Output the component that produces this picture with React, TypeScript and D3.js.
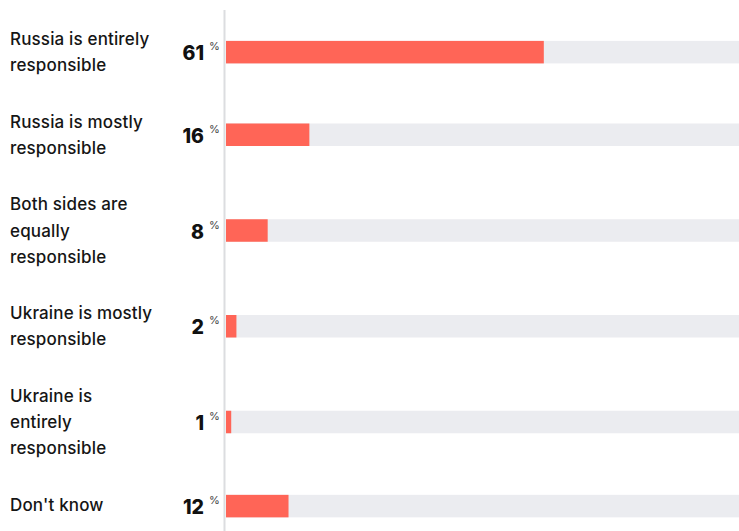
import React from "react";
import * as d3 from "d3";

const categories: string[][] = [
  ["Russia is entirely", "responsible"],
  ["Russia is mostly", "responsible"],
  ["Both sides are", "equally", "responsible"],
  ["Ukraine is mostly", "responsible"],
  ["Ukraine is", "entirely", "responsible"],
  ["Don't know"],
];
const values: number[] = [61, 16, 8, 2, 1, 12];

const W = 739;
const H = 531;
const lineH = 26.3;
const gap = 30;
const firstLineCenter = 39;
const barH = 22.5;

export default function App() {
  const x = d3.scaleLinear().domain([0, 100]).range([226, 747]);
  const rows: { top: number; center: number }[] = [];
  let c = firstLineCenter;
  categories.forEach((lines) => {
    const center = c + ((lines.length - 1) * lineH) / 2;
    rows.push({ top: c, center });
    c += lines.length * lineH + gap;
  });
  return (
    <svg width={W} height={H} style={{ position: "absolute", left: 0, top: 0, background: "#fff" }}>
      <line x1={224.5} x2={224.5} y1={10} y2={H} stroke="#dcdde0" strokeWidth={2} />
      {categories.map((lines, i) => {
        const r = rows[i];
        const by = i === categories.length - 1 ? r.center + 1.5 : r.center;
        return (
          <g key={i}>
            <text fontFamily="Inter, sans-serif" fontWeight={500} fontSize={17} letterSpacing={0.15} fill="#151515">
              {lines.map((l, j) => (
                <tspan key={j} x={10} y={r.top + j * lineH} dominantBaseline="central">
                  {l}
                </tspan>
              ))}
            </text>
            <rect x={x(0)} y={by - barH / 2} width={x(100) - x(0)} height={barH} fill="#ebecf0" />
            <rect x={x(0)} y={by - barH / 2} width={x(values[i]) - x(0)} height={barH} fill="#ff6557" />
            <text
              x={204}
              y={by + 1}
              textAnchor="end"
              dominantBaseline="central"
              fontFamily="Inter, sans-serif"
              fontWeight={800}
              fontSize={19.5}
              fill="#111"
            >
              {values[i]}
            </text>
            <text
              x={209}
              y={by - 6}
              dominantBaseline="central"
              fontFamily="Inter, sans-serif"
              fontWeight={400}
              fontSize={11}
              fill="#444"
            >
              %
            </text>
          </g>
        );
      })}
    </svg>
  );
}
